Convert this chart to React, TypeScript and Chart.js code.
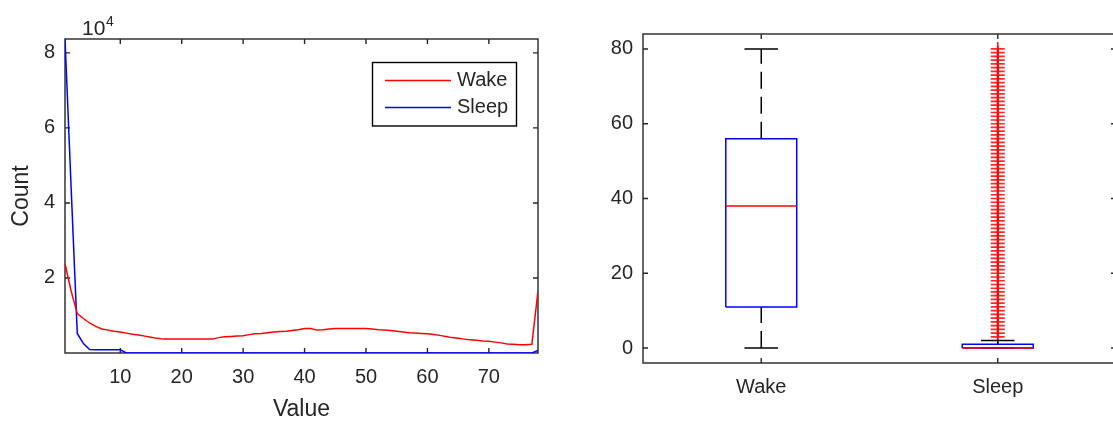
import React, { useEffect, useRef } from "react";
import { Chart, registerables } from "chart.js";

Chart.register(...registerables);

const FONT = "'Liberation Sans', Arial, Helvetica, sans-serif";
const TEXT = "#262626";

// ---------- Left: histogram counts ----------
const valueBins = [
  1, 2, 3, 4, 5, 6, 7, 8, 9, 10, 11, 12, 13, 14, 15, 16, 17, 18, 19, 20,
  21, 22, 23, 24, 25, 26, 27, 28, 29, 30, 31, 32, 33, 34, 35, 36, 37, 38, 39, 40,
  41, 42, 43, 44, 45, 46, 47, 48, 49, 50, 51, 52, 53, 54, 55, 56, 57, 58, 59, 60,
  61, 62, 63, 64, 65, 66, 67, 68, 69, 70, 71, 72, 73, 74, 75, 76, 77, 78,
];
const wakeCounts = [
  23800, 16500, 10500, 9200, 8000, 7100, 6400, 6100, 5800, 5600,
  5300, 5000, 4800, 4500, 4200, 3900, 3700, 3700, 3700, 3700,
  3700, 3700, 3700, 3700, 3700, 4100, 4300, 4400, 4500, 4600,
  4900, 5100, 5200, 5400, 5600, 5700, 5800, 6000, 6200, 6500,
  6500, 6100, 6200, 6400, 6500, 6500, 6500, 6500, 6500, 6500,
  6400, 6200, 6100, 6000, 5800, 5600, 5400, 5300, 5200, 5100,
  4900, 4700, 4400, 4100, 3900, 3700, 3500, 3400, 3200, 3100,
  2900, 2700, 2400, 2300, 2200, 2200, 2300, 16500,
];
const sleepCounts = [
  83700, 44000, 5200, 2500, 900, 880, 880, 870, 870, 860,
  0, 0, 0, 0, 0, 0, 0, 0, 0, 0,
  0, 0, 0, 0, 0, 0, 0, 0, 0, 0,
  0, 0, 0, 0, 0, 0, 0, 0, 0, 0,
  0, 0, 0, 0, 0, 0, 0, 0, 0, 0,
  0, 0, 0, 0, 0, 0, 0, 0, 0, 0,
  0, 0, 0, 0, 0, 0, 0, 0, 0, 0,
  0, 0, 0, 0, 0, 0, 0, 700,
];
const seriesNames = ["Wake", "Sleep"];
const seriesColors = ["#ff0000", "#0000ff"];
const histXTicks = [10, 20, 30, 40, 50, 60, 70];
const histYTicks = [20000, 40000, 60000, 80000];
const histXMin = 1;
const histXMax = 78;
const histYMin = 0;
const histYMax = 83700;

// ---------- Right: box plot ----------
const boxCategories = ["Wake", "Sleep"];
const boxLower = [0, 0];
const boxQ1 = [11, 0];
const boxMedian = [38, 0];
const boxQ3 = [56, 1];
const boxUpper = [80, 2];
const wakeOutliers: number[] = [];
const sleepOutliers = [
  3, 4, 5, 6, 7, 8, 9, 10, 11, 12, 13, 14, 15, 16, 17, 18, 19, 20,
  21, 22, 23, 24, 25, 26, 27, 28, 29, 30, 31, 32, 33, 34, 35, 36, 37, 38, 39, 40,
  41, 42, 43, 44, 45, 46, 47, 48, 49, 50, 51, 52, 53, 54, 55, 56, 57, 58, 59, 60,
  61, 62, 63, 64, 65, 66, 67, 68, 69, 70, 71, 72, 73, 74, 75, 76, 77, 78, 79, 80,
];
const boxOutliers = [wakeOutliers, sleepOutliers];
const boxYTicks = [0, 20, 40, 60, 80];
const boxYMin = -4;
const boxYMax = 84;

const BOX_HALF = 0.15;
const CAP_HALF = 0.071;
const TICK_LEN = 5;

const framePlugin = {
  id: "matlabFrame",
  beforeDatasetsDraw(chart: any) {
    const { ctx, chartArea: a } = chart;
    const xs = chart.scales.x;
    const ys = chart.scales.y;
    ctx.save();
    ctx.strokeStyle = TEXT;
    ctx.lineWidth = 1.4;
    ctx.strokeRect(a.left, a.top, a.right - a.left, a.bottom - a.top);
    ctx.beginPath();
    xs.ticks.forEach((t: any) => {
      const p = xs.getPixelForValue(t.value);
      ctx.moveTo(p, a.bottom);
      ctx.lineTo(p, a.bottom - TICK_LEN);
      ctx.moveTo(p, a.top);
      ctx.lineTo(p, a.top + TICK_LEN);
    });
    ys.ticks.forEach((t: any) => {
      const p = ys.getPixelForValue(t.value);
      ctx.moveTo(a.left, p);
      ctx.lineTo(a.left + TICK_LEN, p);
      ctx.moveTo(a.right, p);
      ctx.lineTo(a.right - TICK_LEN, p);
    });
    ctx.stroke();
    ctx.restore();
  },
};

const histDecorPlugin = {
  id: "histDecor",
  afterDraw(chart: any) {
    const { ctx, chartArea: a } = chart;
    ctx.save();
    ctx.fillStyle = TEXT;
    // axis titles
    ctx.font = `23px ${FONT}`;
    ctx.textAlign = "center";
    ctx.textBaseline = "middle";
    ctx.fillText("Value", (a.left + a.right) / 2, a.bottom + 57);
    ctx.save();
    ctx.translate(a.left - 43, (a.top + a.bottom) / 2);
    ctx.rotate(-Math.PI / 2);
    ctx.fillText("Count", 0, 0);
    ctx.restore();
    // exponent
    ctx.textAlign = "left";
    ctx.textBaseline = "alphabetic";
    ctx.font = `21px ${FONT}`;
    ctx.fillText("10", a.left + 17, a.top - 4);
    ctx.font = `14px ${FONT}`;
    ctx.fillText("4", a.left + 41, a.top - 13);
    // legend
    const lx = 372.5, ly = 62.5, lw = 144, lh = 63.5;
    ctx.fillStyle = "#ffffff";
    ctx.fillRect(lx, ly, lw, lh);
    ctx.strokeStyle = "#000000";
    ctx.lineWidth = 1.4;
    ctx.strokeRect(lx, ly, lw, lh);
    ctx.font = `20px ${FONT}`;
    ctx.textBaseline = "middle";
    seriesNames.forEach((name, i) => {
      const y = 80.5 + i * 27;
      ctx.strokeStyle = seriesColors[i];
      ctx.lineWidth = 1.5;
      ctx.beginPath();
      ctx.moveTo(385, y);
      ctx.lineTo(451, y);
      ctx.stroke();
      ctx.fillStyle = TEXT;
      ctx.fillText(name, 457, y);
    });
    ctx.restore();
  },
};

function LeftChart() {
  const ref = useRef<HTMLCanvasElement>(null);
  useEffect(() => {
    const series = [wakeCounts, sleepCounts];
    const chart = new Chart(ref.current!, {
      type: "line",
      data: {
        datasets: series.map((vals, s) => ({
          label: seriesNames[s],
          data: valueBins.map((x, i) => ({ x, y: vals[i] })),
          borderColor: seriesColors[s],
          borderWidth: 1.5,
          pointRadius: 0,
          tension: 0,
          fill: false,
        })),
      },
      options: {
        animation: false,
        responsive: false,
        devicePixelRatio: 1,
        events: [],
        layout: { padding: { left: 0, top: 39, right: 22, bottom: 0 } },
        plugins: { legend: { display: false }, tooltip: { enabled: false } },
        scales: {
          x: {
            type: "linear",
            min: histXMin,
            max: histXMax,
            afterBuildTicks: (s: any) => {
              s.ticks = histXTicks.map((v) => ({ value: v }));
            },
            afterFit: (s: any) => {
              s.height = 68;
            },
            grid: { display: false, drawTicks: false },
            border: { display: false },
            ticks: {
              autoSkip: false,
              maxRotation: 0,
              padding: 12,
              color: TEXT,
              font: { family: FONT, size: 20 },
              callback: (v: any) => String(v),
            },
          },
          y: {
            type: "linear",
            min: histYMin,
            max: histYMax,
            afterBuildTicks: (s: any) => {
              s.ticks = histYTicks.map((v) => ({ value: v }));
            },
            afterFit: (s: any) => {
              s.width = 65;
            },
            grid: { display: false, drawTicks: false },
            border: { display: false },
            ticks: {
              autoSkip: false,
              padding: 10,
              color: TEXT,
              font: { family: FONT, size: 20 },
              callback: (v: any) => String(Number(v) / 10000),
            },
          },
        },
      },
      plugins: [framePlugin, histDecorPlugin],
    } as any);
    return () => chart.destroy();
  }, []);
  return (
    <canvas
      ref={ref}
      width={560}
      height={421}
      style={{ position: "absolute", left: 0, top: 0 }}
    />
  );
}

function RightChart() {
  const ref = useRef<HTMLCanvasElement>(null);
  useEffect(() => {
    const datasets: any[] = [];
    const seg = (pts: { x: number; y: number }[], color: string, order: number, dash?: number[]) => ({
      data: pts,
      showLine: true,
      borderColor: color,
      backgroundColor: color,
      borderWidth: 1.5,
      borderDash: dash || [],
      pointRadius: 0,
      tension: 0,
      order,
    });
    boxCategories.forEach((_, i) => {
      const x = i + 1;
      datasets.push(
        seg([{ x: x - BOX_HALF, y: boxMedian[i] }, { x: x + BOX_HALF, y: boxMedian[i] }], "#ff0000", 0)
      );
      datasets.push(
        seg(
          [
            { x: x - BOX_HALF, y: boxQ1[i] },
            { x: x + BOX_HALF, y: boxQ1[i] },
            { x: x + BOX_HALF, y: boxQ3[i] },
            { x: x - BOX_HALF, y: boxQ3[i] },
            { x: x - BOX_HALF, y: boxQ1[i] },
          ],
          "#0000ff",
          1
        )
      );
      datasets.push(seg([{ x, y: boxQ3[i] }, { x, y: boxUpper[i] }], "#000000", 2, [17, 8]));
      datasets.push(seg([{ x, y: boxLower[i] }, { x, y: boxQ1[i] }], "#000000", 2, [17, 8]));
      datasets.push(
        seg([{ x: x - CAP_HALF, y: boxUpper[i] }, { x: x + CAP_HALF, y: boxUpper[i] }], "#000000", 2)
      );
      datasets.push(
        seg([{ x: x - CAP_HALF, y: boxLower[i] }, { x: x + CAP_HALF, y: boxLower[i] }], "#000000", 3)
      );
      datasets.push({
        data: boxOutliers[i].map((v) => ({ x, y: v })),
        showLine: false,
        pointStyle: "cross",
        pointRadius: 7,
        pointBorderWidth: 1.7,
        borderColor: "rgba(255,0,0,0.85)",
        backgroundColor: "rgba(255,0,0,0.85)",
        order: 4,
      });
    });
    const chart = new Chart(ref.current!, {
      type: "scatter",
      data: { datasets },
      options: {
        animation: false,
        responsive: false,
        devicePixelRatio: 1,
        events: [],
        layout: { padding: { left: 0, top: 34, right: 24, bottom: 0 } },
        plugins: { legend: { display: false }, tooltip: { enabled: false } },
        scales: {
          x: {
            type: "linear",
            min: 0.5,
            max: boxCategories.length + 0.5,
            afterBuildTicks: (s: any) => {
              s.ticks = boxCategories.map((_, i) => ({ value: i + 1 }));
            },
            afterFit: (s: any) => {
              s.height = 58;
            },
            grid: { display: false, drawTicks: false },
            border: { display: false },
            ticks: {
              autoSkip: false,
              maxRotation: 0,
              padding: 12,
              color: TEXT,
              font: { family: FONT, size: 20 },
              callback: (v: any) => boxCategories[Math.round(Number(v)) - 1] ?? "",
            },
          },
          y: {
            type: "linear",
            min: boxYMin,
            max: boxYMax,
            afterBuildTicks: (s: any) => {
              s.ticks = boxYTicks.map((v) => ({ value: v }));
            },
            afterFit: (s: any) => {
              s.width = 63;
            },
            grid: { display: false, drawTicks: false },
            border: { display: false },
            ticks: {
              autoSkip: false,
              padding: 10,
              color: TEXT,
              font: { family: FONT, size: 20 },
              callback: (v: any) => String(v),
            },
          },
        },
      },
      plugins: [framePlugin],
    } as any);
    return () => chart.destroy();
  }, []);
  return (
    <canvas
      ref={ref}
      width={560}
      height={421}
      style={{ position: "absolute", left: 580, top: 0 }}
    />
  );
}

export default function App() {
  return (
    <div
      style={{
        position: "fixed",
        left: 0,
        top: 0,
        width: 1113,
        height: 421,
        overflow: "hidden",
        background: "#ffffff",
      }}
    >
      <LeftChart />
      <RightChart />
    </div>
  );
}
